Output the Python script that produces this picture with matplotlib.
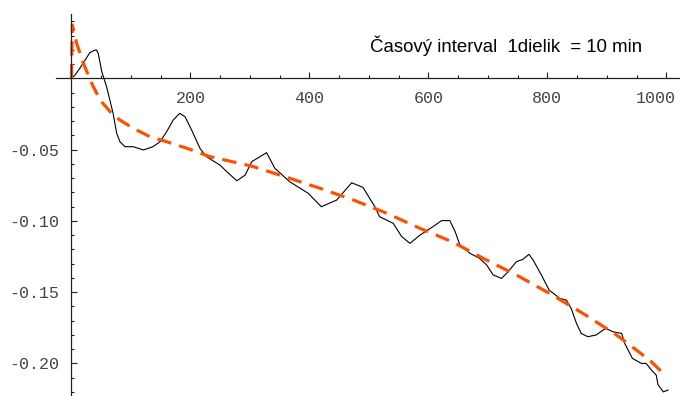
import matplotlib
matplotlib.use("Agg")
import matplotlib.pyplot as plt
import matplotlib.transforms as mtransforms
from matplotlib.ticker import MultipleLocator, FixedLocator

t_meas = [0, 6, 14, 23, 31, 38, 42, 45, 51, 59, 70, 76, 81.5, 90, 104, 121, 137, 149,
          160, 171, 182, 191, 202, 216, 227, 250, 261, 278, 292, 303, 328, 342, 367,
          398, 420, 446, 471, 490, 510, 518, 541, 555, 569, 586, 608, 622, 636, 645,
          653, 670, 686, 698, 709, 723, 734, 748, 759, 769, 776, 790, 803, 821, 832,
          840, 849, 857, 868, 882, 898, 910, 925, 930, 943, 958, 966, 975, 983, 986,
          995, 1003]
v_meas = [0, 0.0023, 0.007, 0.0128, 0.018, 0.0195, 0.0199, 0.0175, 0.0046, -0.0059,
          -0.0246, -0.0386, -0.0445, -0.048, -0.048, -0.0503, -0.048, -0.0445, -0.0375,
          -0.0293, -0.0246, -0.027, -0.0363, -0.0491, -0.055, -0.061, -0.0655, -0.0719,
          -0.0679, -0.0585, -0.0522, -0.0632, -0.0726, -0.0807, -0.0901, -0.0854,
          -0.0733, -0.0765, -0.0901, -0.0971, -0.1018, -0.111, -0.1158, -0.110, -0.104,
          -0.0999, -0.0998, -0.1076, -0.117, -0.1228, -0.1263, -0.131, -0.138, -0.1404,
          -0.1357, -0.1287, -0.127, -0.1235, -0.1275, -0.138, -0.1486, -0.1544, -0.1556,
          -0.1614, -0.172, -0.179, -0.1813, -0.1801, -0.1754, -0.1778, -0.179, -0.186,
          -0.1965, -0.2, -0.2, -0.2047, -0.2082, -0.215, -0.22, -0.2187]

# fitted curve (dashed)
t_fit = [0, 1.5, 8.7, 20, 34, 48, 65, 81.5, 104, 132, 160, 194, 233, 283, 306, 362,
         418, 474, 530, 586, 640, 692, 748, 804, 860, 916, 972, 995]
v_fit = [0.0, 0.0374, 0.0245, 0.0105, -0.0035, -0.0152, -0.0234, -0.0293, -0.0351,
         -0.041, -0.0445, -0.0491, -0.055, -0.0597, -0.062, -0.0695, -0.0772, -0.0854,
         -0.0947, -0.1053, -0.1147, -0.1263, -0.138, -0.151, -0.165, -0.180, -0.1977,
         -0.207]

x_major = [200, 400, 600, 800, 1000]
y_major = [-0.20, -0.15, -0.10, -0.05]
y_labels = ["-0.20", "-0.15", "-0.10", "-0.05"]

W, H = 680, 396
fig = plt.figure(figsize=(W / 100, H / 100), dpi=100)
ax = fig.add_axes([56 / W, 0, 624 / W, (H - 14) / H])

ax.plot(t_meas, v_meas, color="black", lw=0.8)
ax.plot(t_fit, v_fit, color="#ff5000", lw=2.3, linestyle=(0, (4.5, 2.6)))

ax.set_xlim(-26, 1023)
ax.set_ylim(-0.2229, 0.0451)

for s in ["top", "right"]:
    ax.spines[s].set_visible(False)
ax.spines["left"].set_position(("data", 0))
ax.spines["bottom"].set_position(("data", 0))
for s in ["left", "bottom"]:
    ax.spines[s].set_linewidth(0.9)
    ax.spines[s].set_color("#222222")

ax.xaxis.set_major_locator(FixedLocator(x_major))
ax.xaxis.set_minor_locator(MultipleLocator(50))
ax.yaxis.set_major_locator(FixedLocator(y_major))
ax.set_yticklabels(y_labels)
ax.yaxis.set_minor_locator(MultipleLocator(0.01))

for lab in ax.get_xticklabels() + ax.get_yticklabels():
    lab.set_fontfamily("Liberation Mono")
    lab.set_fontsize(12)
    lab.set_color("#444444")

ax.tick_params(which="both", direction="in", color="#222222", width=0.8)
ax.tick_params(which="major", length=4)
ax.tick_params(which="minor", length=2.2)
ax.tick_params(axis="x", which="major", pad=9)
ax.tick_params(axis="y", which="major", pad=9)

# last x label sits a bit left of its tick, as in the original
fig.canvas.draw()
last = ax.get_xticklabels()[-1]
last.set_transform(last.get_transform() +
                   mtransforms.ScaledTranslation(-10 / 100, 0, fig.dpi_scale_trans))

fig.text(370 / W, 1 - 52 / H, "Časový interval  1dielik  = 10 min",
         fontfamily="Liberation Sans", fontsize=13.4, va="baseline", ha="left")

fig.savefig("out.png", dpi=100)
